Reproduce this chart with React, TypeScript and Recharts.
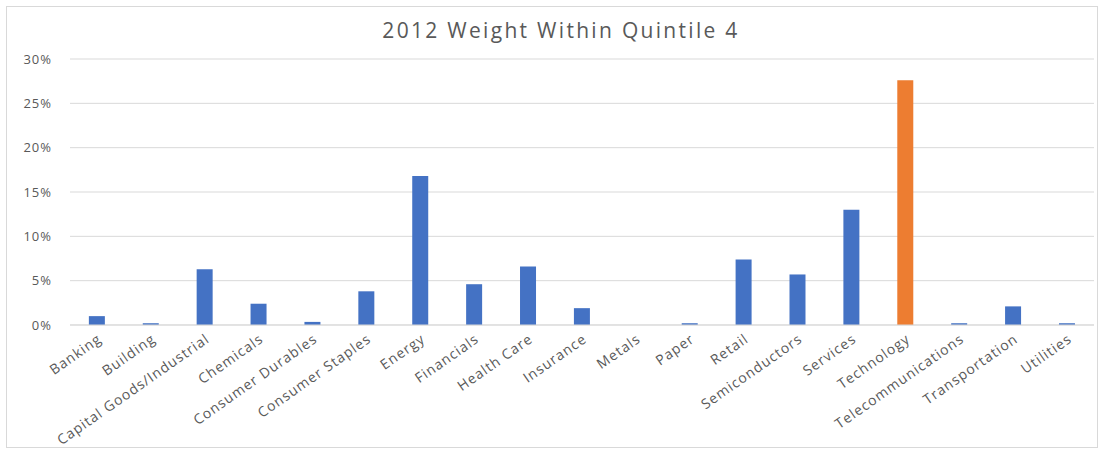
import { BarChart, Bar, XAxis, YAxis, CartesianGrid, Cell } from "recharts"

const sectors = [
  "Banking", "Building", "Capital Goods/Industrial", "Chemicals", "Consumer Durables",
  "Consumer Staples", "Energy", "Financials", "Health Care", "Insurance", "Metals",
  "Paper", "Retail", "Semiconductors", "Services", "Technology", "Telecommunications",
  "Transportation", "Utilities",
]
// weight within quintile, in %
const weights = [
  1.0, 0.2, 6.3, 2.4, 0.35, 3.8, 16.8, 4.6, 6.6, 1.9, 0,
  0.2, 7.4, 5.7, 13.0, 27.6, 0.2, 2.1, 0.2,
]
const yTicks = [0, 5, 10, 15, 20, 25, 30]
const highlight = "Technology"

const font = "'Open Sans', 'Liberation Sans', sans-serif"

export default function App() {
  const data = sectors.map((name, i) => ({ name, weight: weights[i] }))

  return (
    <div style={{ position: "fixed", left: 0, top: 0, width: 1102, height: 451, background: "#fff", fontFamily: font }}>
      {/* chart frame */}
      <div style={{ position: "absolute", left: 6, top: 6, width: 1090, height: 440, border: "1px solid #d9d9d9" }} />
      <div style={{ position: "absolute", left: 0, top: 16, width: 1122, textAlign: "center", fontSize: 21, letterSpacing: 2.3, color: "#595959" }}>
        2012 Weight Within Quintile 4
      </div>
      <BarChart
        width={1102}
        height={451}
        data={data}
        margin={{ top: 59, right: 8, left: 0, bottom: 6 }}
        barCategoryGap="35%"
        style={{ position: "absolute", left: 0, top: 0 }}
      >
        <CartesianGrid vertical={false} stroke="#d9d9d9" />
        <XAxis
          dataKey="name"
          interval={0}
          height={120}
          tickLine={false}
          axisLine={{ stroke: "#d9d9d9" }}
          angle={-35}
          textAnchor="end"
          tick={{ fill: "#595959", fontSize: 14, fontFamily: font, letterSpacing: 1 }}
        />
        <YAxis
          width={70}
          domain={[0, 30]}
          ticks={yTicks}
          tickFormatter={(v: number) => `${v}%`}
          tickLine={false}
          axisLine={false}
          tickMargin={12}
          tick={{ fill: "#595959", fontSize: 13, fontFamily: font, letterSpacing: 1 }}
        />
        <Bar dataKey="weight" isAnimationActive={false}>
          {data.map((d) => (
            <Cell key={d.name} fill={d.name === highlight ? "#ED7D31" : "#4472C4"} />
          ))}
        </Bar>
      </BarChart>
    </div>
  )
}
